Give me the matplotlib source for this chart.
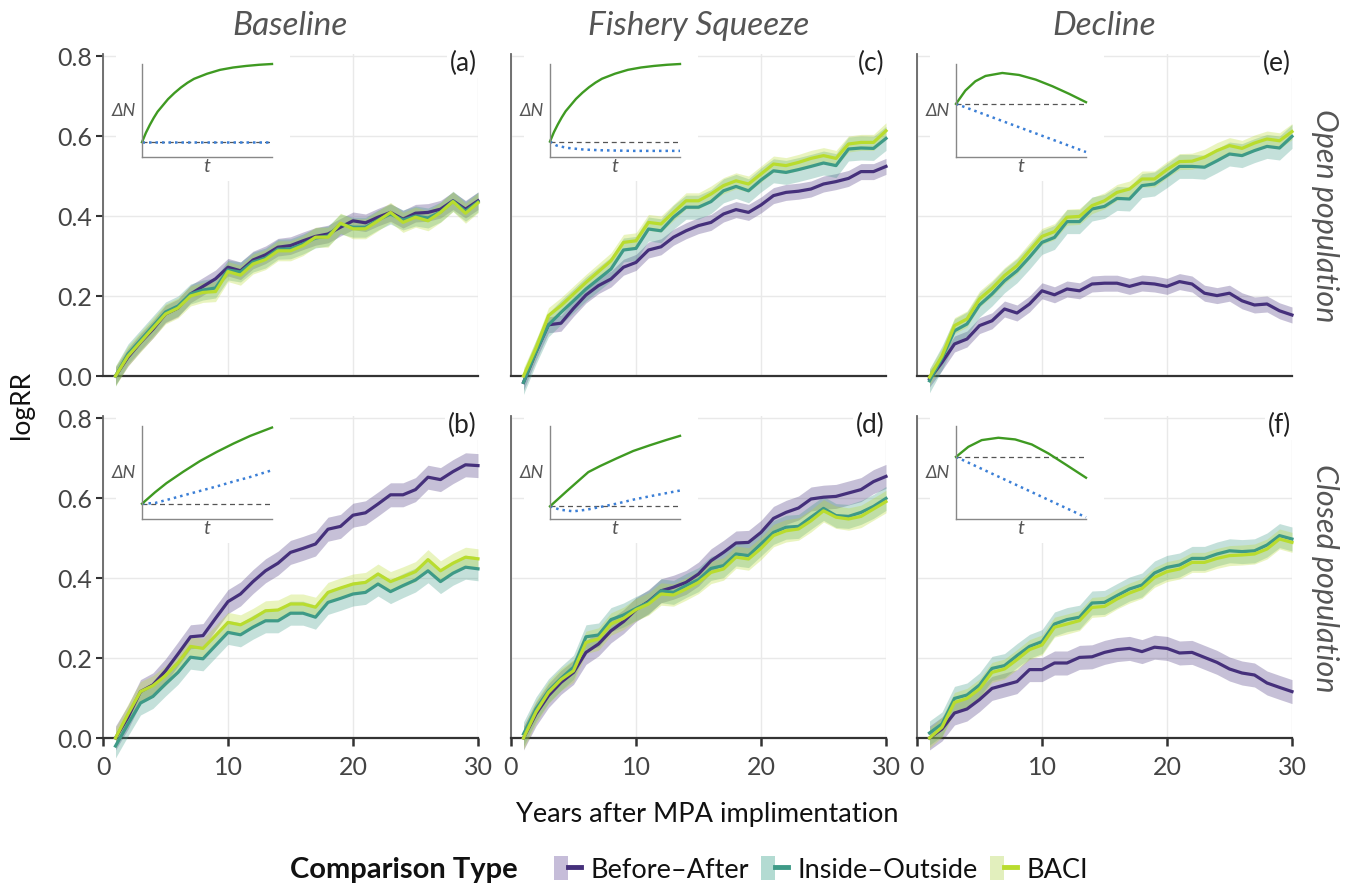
import matplotlib
matplotlib.use('Agg')
import matplotlib.pyplot as plt
from matplotlib.patches import Rectangle, Patch
from matplotlib.lines import Line2D
from matplotlib.legend_handler import HandlerTuple

plt.rcParams['font.family'] = ['Lato', 'DejaVu Sans']

years = list(range(1, 31))

# ---- main panel data (logRR), panels a..f ----
ba_a = [0.0, 0.047, 0.084, 0.117, 0.155, 0.17, 0.205, 0.224, 0.243, 0.272, 0.263, 0.29, 0.303, 0.322, 0.326,
        0.338, 0.349, 0.355, 0.372, 0.388, 0.383, 0.397, 0.409, 0.392, 0.407, 0.409, 0.417, 0.438, 0.417, 0.438]
io_a = [0.0, 0.055, 0.09, 0.125, 0.16, 0.175, 0.205, 0.215, 0.22, 0.265, 0.26, 0.285, 0.295, 0.317, 0.318,
        0.33, 0.345, 0.35, 0.38, 0.372, 0.372, 0.39, 0.405, 0.39, 0.4, 0.395, 0.41, 0.437, 0.412, 0.435]
baci_a = [0.0, 0.05, 0.085, 0.12, 0.155, 0.17, 0.2, 0.209, 0.211, 0.261, 0.252, 0.28, 0.291, 0.313, 0.313,
          0.326, 0.347, 0.347, 0.382, 0.368, 0.368, 0.388, 0.409, 0.384, 0.397, 0.388, 0.409, 0.436, 0.407, 0.433]

ba_b = [0.0, 0.052, 0.116, 0.133, 0.168, 0.21, 0.253, 0.256, 0.299, 0.341, 0.36, 0.391, 0.418, 0.437, 0.464,
        0.474, 0.485, 0.522, 0.529, 0.557, 0.563, 0.585, 0.608, 0.608, 0.621, 0.652, 0.646, 0.666, 0.683, 0.681]
io_b = [-0.02, 0.035, 0.0875, 0.104, 0.135, 0.164, 0.202, 0.198, 0.231, 0.264, 0.258, 0.277, 0.293, 0.293, 0.312,
        0.312, 0.302, 0.339, 0.349, 0.36, 0.364, 0.385, 0.366, 0.381, 0.395, 0.418, 0.391, 0.412, 0.427, 0.423]
baci_b = [0.0, 0.06, 0.116, 0.131, 0.156, 0.188, 0.229, 0.224, 0.256, 0.289, 0.283, 0.299, 0.318, 0.32, 0.335,
          0.335, 0.327, 0.364, 0.375, 0.385, 0.389, 0.41, 0.391, 0.403, 0.416, 0.446, 0.418, 0.437, 0.452, 0.448]

ba_c = [-0.016, 0.06, 0.128, 0.132, 0.169, 0.2025, 0.226, 0.2425, 0.272, 0.284, 0.315, 0.323, 0.347, 0.363, 0.376,
        0.384, 0.405, 0.416, 0.409, 0.4275, 0.451, 0.459, 0.462, 0.4675, 0.48, 0.486, 0.494, 0.511, 0.511, 0.524]
io_c = [-0.016, 0.06, 0.128, 0.159, 0.188, 0.2175, 0.2425, 0.2675, 0.315, 0.319, 0.3675, 0.363, 0.397, 0.422, 0.422,
        0.436, 0.463, 0.474, 0.463, 0.49, 0.513, 0.509, 0.516, 0.524, 0.5325, 0.526, 0.5675, 0.57, 0.569, 0.594]
baci_c = [0.0, 0.07, 0.151, 0.176, 0.205, 0.234, 0.261, 0.288, 0.334, 0.338, 0.384, 0.38, 0.409, 0.438, 0.438,
          0.455, 0.476, 0.488, 0.48, 0.505, 0.53, 0.526, 0.534, 0.544, 0.551, 0.544, 0.58, 0.584, 0.584, 0.613]

ba_d = [0.0, 0.06, 0.106, 0.139, 0.164, 0.214, 0.235, 0.268, 0.291, 0.321, 0.341, 0.368, 0.377, 0.389, 0.41,
        0.443, 0.464, 0.4875, 0.489, 0.514, 0.549, 0.564, 0.575, 0.5975, 0.602, 0.604, 0.6125, 0.621, 0.641, 0.654]
io_d = [0.01, 0.0725, 0.118, 0.149, 0.177, 0.253, 0.2575, 0.296, 0.3075, 0.324, 0.339, 0.368, 0.364, 0.381, 0.396,
        0.424, 0.431, 0.46, 0.456, 0.485, 0.514, 0.527, 0.529, 0.552, 0.574, 0.556, 0.554, 0.564, 0.579, 0.599]
baci_d = [0.0, 0.065, 0.114, 0.146, 0.168, 0.239, 0.2475, 0.285, 0.299, 0.321, 0.335, 0.36, 0.3575, 0.3725, 0.389,
          0.414, 0.4225, 0.452, 0.4475, 0.474, 0.506, 0.518, 0.5225, 0.543, 0.568, 0.552, 0.5475, 0.554, 0.5725, 0.591]

ba_e = [-0.0075, 0.034, 0.08, 0.0925, 0.126, 0.138, 0.1675, 0.1575, 0.18, 0.213, 0.203, 0.2175, 0.213, 0.23, 0.232,
        0.232, 0.224, 0.2325, 0.23, 0.224, 0.236, 0.23, 0.207, 0.201, 0.207, 0.188, 0.1775, 0.18, 0.163, 0.1525]
io_e = [-0.012, 0.045, 0.113, 0.13, 0.1775, 0.205, 0.238, 0.263, 0.297, 0.334, 0.3465, 0.386, 0.386, 0.4175, 0.424,
        0.444, 0.4425, 0.476, 0.48, 0.501, 0.524, 0.524, 0.522, 0.538, 0.555, 0.551, 0.5635, 0.574, 0.57, 0.599]
baci_e = [-0.003, 0.05, 0.126, 0.1425, 0.1925, 0.219, 0.251, 0.276, 0.313, 0.349, 0.361, 0.397, 0.399, 0.426, 0.438,
          0.459, 0.4675, 0.4925, 0.4925, 0.516, 0.536, 0.537, 0.547, 0.5635, 0.576, 0.569, 0.5825, 0.5925, 0.588, 0.611]

ba_f = [0.0, 0.0225, 0.0625, 0.0725, 0.096, 0.124, 0.1325, 0.141, 0.171, 0.171, 0.1875, 0.1875, 0.2015, 0.203, 0.214,
        0.221, 0.224, 0.216, 0.227, 0.224, 0.2125, 0.214, 0.2015, 0.189, 0.1725, 0.1625, 0.1575, 0.1375, 0.1265, 0.116]
io_f = [0.0125, 0.035, 0.099, 0.1075, 0.1325, 0.174, 0.181, 0.206, 0.229, 0.241, 0.285, 0.296, 0.302, 0.3375, 0.339,
        0.356, 0.3725, 0.3825, 0.4125, 0.4265, 0.4325, 0.449, 0.449, 0.46, 0.468, 0.466, 0.468, 0.4825, 0.506, 0.4975]
baci_f = [0.0, 0.027, 0.089, 0.099, 0.1225, 0.164, 0.1725, 0.196, 0.221, 0.2325, 0.277, 0.285, 0.2935, 0.3265, 0.329,
          0.3475, 0.3625, 0.374, 0.4015, 0.416, 0.4225, 0.439, 0.439, 0.449, 0.456, 0.4575, 0.46, 0.4725, 0.4975, 0.489]

# band half widths per panel (a..f)
hw_ba = [0.022, 0.03, 0.02, 0.03, 0.02, 0.03]
hw_io = [0.025, 0.03, 0.03, 0.03, 0.03, 0.03]
hw_baci = [0.025, 0.025, 0.02, 0.028, 0.02, 0.025]

# ---- inset schematic curves (t in 0..1) ----
sat_t = [0, 0.03, 0.06, 0.09, 0.12, 0.16, 0.2, 0.25, 0.3, 0.35, 0.4, 0.5, 0.6, 0.7, 0.8, 0.9, 1.0]
sat_y = [0, 0.12, 0.22, 0.31, 0.39, 0.47, 0.55, 0.63, 0.70, 0.76, 0.81, 0.875, 0.925, 0.955, 0.975, 0.99, 1.0]

in_green_t = {
    'a': sat_t,
    'b': [0, 0.1, 0.188, 0.317, 0.446, 0.575, 0.704, 0.832, 1.0],
    'c': sat_t,
    'd': [0, 0.128, 0.295, 0.385, 0.513, 0.641, 0.769, 0.897, 1.0],
    'e': [0, 0.072, 0.149, 0.227, 0.356, 0.485, 0.613, 0.742, 0.871, 1.0],
    'f': [0, 0.095, 0.198, 0.326, 0.455, 0.583, 0.712, 0.841, 1.0],
}
in_green_y = {
    'a': sat_y,
    'b': [0, 0.15, 0.27, 0.42, 0.56, 0.68, 0.79, 0.89, 1.0],
    'c': sat_y,
    'd': [0, 0.214, 0.486, 0.571, 0.681, 0.786, 0.867, 0.943, 1.0],
    'e': [0, 0.40, 0.68, 0.84, 0.93, 0.87, 0.73, 0.53, 0.30, 0.05],
    'f': [0, 0.30, 0.50, 0.57, 0.52, 0.37, 0.10, -0.22, -0.62],
}
in_blue_t = {
    'a': [0, 1.0],
    'b': [0, 0.1, 0.19, 0.32, 0.45, 0.58, 0.70, 0.83, 1.0],
    'c': [0, 0.05, 0.13, 0.26, 0.39, 0.64, 1.0],
    'd': [0, 0.077, 0.179, 0.282, 0.385, 0.513, 0.641, 0.769, 1.0],
    'e': [0, 1.0],
    'f': [0, 1.0],
}
in_blue_y = {
    'a': [0, 0],
    'b': [0, 0.01, 0.05, 0.11, 0.17, 0.23, 0.29, 0.35, 0.44],
    'c': [0, -0.052, -0.082, -0.104, -0.113, -0.121, -0.121],
    'd': [0, -0.048, -0.071, -0.048, -0.010, 0.038, 0.095, 0.143, 0.224],
    'e': [0, -1.45],
    'f': [0, -1.8],
}
in_ylim = {'a': (-0.19, 1.0), 'b': (-0.2, 1.02), 'c': (-0.2, 1.0),
           'd': (-0.18, 1.14), 'e': (-1.6, 1.2), 'f': (-1.85, 0.92)}

col_titles = ['Baseline', 'Fishery Squeeze', 'Decline']
row_titles = ['Open population', 'Closed population']
series_names = ['Before\u2013After', 'Inside\u2013Outside', 'BACI']
line_colors = ['#45307b', '#3e9a87', '#b9dc2e']
band_colors = ['#c6bdd9', '#b3dbd2', '#e2efbd']

panels = {
    'a': (ba_a, io_a, baci_a), 'b': (ba_b, io_b, baci_b),
    'c': (ba_c, io_c, baci_c), 'd': (ba_d, io_d, baci_d),
    'e': (ba_e, io_e, baci_e), 'f': (ba_f, io_f, baci_f),
}
order = ['a', 'b', 'c', 'd', 'e', 'f']

W, H = 1354, 887
fig = plt.figure(figsize=(W / 100, H / 100), dpi=100)

col_left = [103, 511, 917]
row_top = [55, 417]
pw, ph = 375, 322

for ci in range(3):
    for ri in range(2):
        key = order[ci * 2 + ri]
        left, top = col_left[ci], row_top[ri]
        ax = fig.add_axes([left / W, 1 - (top + ph) / H, pw / W, ph / H])
        ax.set_axisbelow(True)
        ax.set_xlim(0, 30)
        ax.set_ylim(0, 0.805)
        ax.set_xticks([0, 10, 20, 30])
        ax.set_yticks([0, 0.2, 0.4, 0.6, 0.8])
        ax.grid(True, color='#e9e9e9', linewidth=1.0)
        for s in ['top', 'right']:
            ax.spines[s].set_visible(False)
        ax.spines['left'].set_color('#666666')
        ax.spines['left'].set_linewidth(1.3)
        ax.spines['bottom'].set_color('#333333')
        ax.spines['bottom'].set_linewidth(1.6)

        if ci == 0:
            ax.set_yticklabels(['0.0', '0.2', '0.4', '0.6', '0.8'])
            ax.tick_params(axis='y', length=5, width=1.5, color='#333333',
                           labelsize=18, labelcolor='#444444', pad=3)
        else:
            ax.tick_params(axis='y', length=0, labelleft=False)
        if ri == 1:
            ax.tick_params(axis='x', length=6, width=1.8, color='#333333',
                           labelsize=18, labelcolor='#444444', pad=6)
        else:
            ax.tick_params(axis='x', length=0, labelbottom=False)

        vals = panels[key]
        pi = order.index(key)
        hws = [hw_ba[pi], hw_io[pi], hw_baci[pi]]
        for si in range(3):
            v = vals[si]
            lo = [y - hws[si] for y in v]
            hi = [y + hws[si] for y in v]
            ax.fill_between(years, lo, hi, color=line_colors[si], alpha=0.3,
                            linewidth=0, clip_on=False, zorder=2 + si)
        for si in range(3):
            ax.plot(years, vals[si], color=line_colors[si], linewidth=2.3,
                    clip_on=False, zorder=6 + si)

        # white area behind the inset
        ax.add_patch(Rectangle((13 / pw, 1 - 127 / ph), 174 / pw, 127 / ph,
                               transform=ax.transAxes, facecolor='white',
                               edgecolor='none', zorder=1, clip_on=False))
        ax.text(0.997, 1 - 8.5 / ph, '(' + key + ')', transform=ax.transAxes,
                ha='right', va='center', fontsize=19, color='#222222', zorder=20,
                bbox=dict(facecolor='white', edgecolor='none', pad=2))

        # inset schematic
        ix = fig.add_axes([(left + 39) / W, 1 - (top + 103) / H, 130 / W, 93 / H])
        ix.patch.set_alpha(0)
        ix.set_xlim(0, 1)
        ix.set_ylim(*in_ylim[key])
        ix.set_xticks([])
        ix.set_yticks([])
        for s in ['top', 'right']:
            ix.spines[s].set_visible(False)
        for s in ['left', 'bottom']:
            ix.spines[s].set_color('#888888')
            ix.spines[s].set_linewidth(1.0)
        ix.plot([0, 1], [0, 0], color='#555555', linewidth=0.9, linestyle=(0, (4, 3)),
                clip_on=False)
        ix.plot(in_blue_t[key], in_blue_y[key], color='#3b7fd6', linewidth=1.8,
                linestyle=(0, (1, 1.6)), clip_on=False)
        ix.plot(in_green_t[key], in_green_y[key], color='#3f9a22', linewidth=1.7,
                clip_on=False)
        ix.set_ylabel('\u0394N', rotation=0, fontsize=13, color='#555555',
                      style='italic', labelpad=13, va='center')
        ix.set_xlabel('t', fontsize=14, color='#555555', style='italic', labelpad=0)

# column titles
for ci, name in enumerate(col_titles):
    fig.text((col_left[ci] + pw / 2) / W, 1 - 26 / H, name, ha='center', va='center',
             fontsize=24, style='italic', color='#555555')
# row strip titles
for ri, name in enumerate(row_titles):
    fig.text(1325 / W, 1 - (row_top[ri] + ph / 2) / H, name, ha='center', va='center',
             rotation=-90, fontsize=22, style='italic', color='#555555')

fig.text(22 / W, 1 - 405 / H, 'logRR', rotation=90, ha='center', va='center',
         fontsize=19, color='#111111')
fig.text(707 / W, 1 - 815 / H, 'Years after MPA implimentation', ha='center',
         va='center', fontsize=19.5, color='#111111')

# legend
fig.text(290 / W, 1 - 870 / H, 'Comparison Type', ha='left', va='center',
         fontsize=21, fontweight='bold', color='#111111')
handles = []
for si in range(3):
    handles.append((Patch(facecolor=band_colors[si], edgecolor='none'),
                    Line2D([], [], color=line_colors[si], linewidth=3.5)))
leg = fig.legend(handles, series_names, loc='center left',
                 bbox_to_anchor=(554 / W, 1 - 870 / H), ncol=3, frameon=False,
                 fontsize=19.5, handlelength=1.0, handleheight=1.0,
                 handletextpad=0.35, columnspacing=0.45, borderpad=0,
                 borderaxespad=0, handler_map={tuple: HandlerTuple(ndivide=None, pad=0)})
for t in leg.get_texts():
    t.set_color('#111111')

fig.savefig('out.png', dpi=100)
